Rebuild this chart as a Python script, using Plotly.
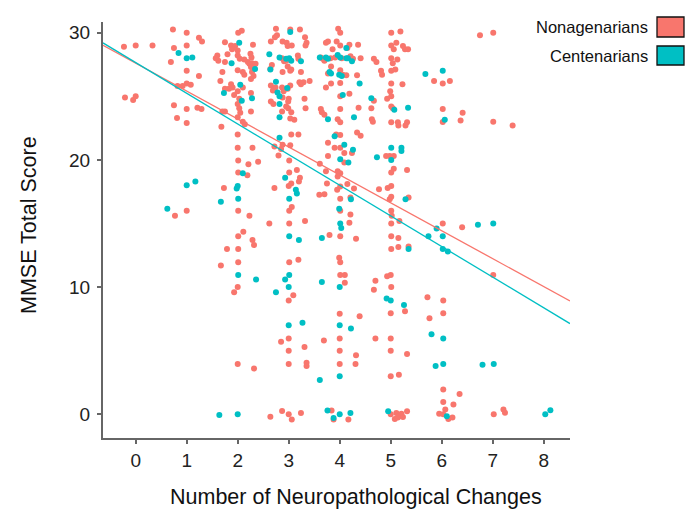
import plotly.graph_objects as go

# ---------------- data ----------------
groups = ["Nonagenarians", "Centenarians"]
group_colors = ["#F8766D", "#00BFC4"]

nonagenarian_points = [
    (0.73,30.25),(1.0,30.0),(1.24,29.6),(1.30,29.3),(-0.23,28.9),(0.0,29.0),(0.33,29.0),(0.75,28.8),(1.0,29.0),
    (0.69,27.7),(1.0,27.0),(1.24,26.6),(1.0,26.0),(0.92,25.8),(0.82,25.8),(1.08,25.9),(-0.21,24.9),(-0.05,24.7),
    (0.0,25.0),(0.75,24.3),(1.0,24.0),(1.21,24.1),(1.29,24.0),(0.81,23.3),(1.0,22.9),(0.77,15.6),(1.0,16.0),
    (2.08,30.15),(2.01,30.0),(1.75,29.25),(1.87,29.0),(1.95,28.95),(1.89,28.7),(2.0,28.6),(2.3,29.05),(1.6,28.2),
    (1.62,27.8),(1.57,28.0),(1.8,28.3),(1.75,27.7),(2.0,28.2),(2.04,27.95),(2.13,27.9),(2.25,28.35),(2.27,28.05),
    (2.2,27.7),(2.23,27.55),(2.28,27.6),(2.31,27.4),(2.35,27.55),(2.26,27.3),(2.0,27.05),(2.1,26.9),(2.13,26.7),
    (2.28,26.9),(2.31,26.6),(2.26,26.35),(1.7,26.9),(1.66,26.2),(1.87,25.95),(1.9,25.7),(1.83,25.6),(2.1,25.7),
    (2.0,25.4),(1.93,25.1),(1.75,25.6),(2.26,25.25),(2.03,24.8),(2.0,24.4),(2.03,24.05),(2.05,23.7),(2.0,23.35),
    (2.26,23.8),(1.7,23.8),(1.75,23.8),(1.68,22.6),(2.0,22.0),(2.0,20.95),(2.29,20.95),(2.14,22.8),(2.1,23.0),
    (2.01,19.95),(2.21,19.65),(2.4,19.85),(2.01,19.0),(2.19,18.8),(1.73,17.8),(2.01,16.0),(2.23,15.6),(2.11,14.35),
    (2.01,14.0),(2.29,13.7),(2.32,13.3),(1.79,13.0),(2.01,13.0),(2.01,11.95),(1.67,11.7),(2.0,10.0),(1.93,9.6),
    (2.0,3.95),(2.32,3.6),
    (2.75,30.3),(2.77,29.8),(3.03,30.25),(3.22,30.25),(2.65,29.3),(2.88,29.3),(2.96,29.2),(2.98,28.95),(3.06,29.0),
    (3.32,29.65),(3.35,29.2),(3.33,29.0),(2.73,29.65),(2.87,28.0),(2.91,27.75),(2.95,27.8),(3.18,28.2),(3.19,27.95),
    (2.67,27.45),(2.64,27.15),(2.98,27.35),(3.05,27.1),(2.88,26.9),(3.03,27.0),(3.24,26.9),(3.29,26.1),(3.24,25.95),
    (3.41,26.2),(3.21,26.1),(2.65,25.85),(2.74,25.7),(2.69,25.45),(2.87,25.7),(2.98,25.6),(3.03,25.85),(2.9,25.4),
    (2.88,24.9),(3.0,24.8),(2.65,24.6),(2.7,24.4),(2.99,24.6),(2.95,24.2),(3.31,24.8),(3.33,24.05),(2.87,23.8),
    (2.99,24.05),(3.05,23.75),(3.03,23.25),(3.11,23.15),(3.05,22.0),(3.19,22.0),(2.88,21.2),(3.03,21.15),(2.72,21.05),
    (2.85,20.85),(2.8,20.35),(3.01,19.95),(3.01,19.0),(3.16,19.2),(3.22,18.6),(3.2,18.3),(3.05,18.15),(3.0,17.95),
    (2.72,17.8),(3.06,16.3),(3.01,16.0),(2.62,15.0),(3.01,15.0),(3.32,15.2),(3.01,11.95),(3.19,12.15),(3.09,9.35),
    (3.0,8.95),(2.85,5.7),(3.0,5.95),(3.0,5.0),(3.31,5.3),(3.0,3.95),(3.35,4.05),(3.35,3.8),(2.64,-0.2),(2.87,0.25),
    (3.0,0.0),(3.06,-0.4),(3.24,0.1),
    (3.63,28.05),(3.7,27.8),(3.67,27.95),(3.65,23.75),(3.77,21.35),(3.97,30.3),(4.01,30.0),(3.73,29.2),(3.77,29.3),
    (3.94,29.3),(4.01,29.0),(4.19,29.05),(4.36,29.05),(4.15,28.8),(3.86,28.7),(3.82,28.0),(3.91,28.05),(4.04,28.0),
    (4.21,28.15),(4.26,27.95),(4.41,28.0),(3.83,27.35),(3.77,26.8),(4.01,27.05),(4.06,26.7),(4.13,26.65),(4.34,26.65),
    (3.73,25.7),(3.83,26.0),(4.01,26.05),(4.01,25.0),(4.19,25.2),(4.67,24.65),(3.63,24.0),(3.7,23.55),(4.01,24.0),
    (4.37,24.1),(4.62,24.05),(3.96,23.2),(4.01,22.95),(4.63,23.2),(4.65,23.0),(4.34,22.15),(4.41,21.9),(3.93,22.0),
    (4.01,21.95),(3.9,20.95),(4.01,20.95),(4.09,20.55),(4.24,20.55),(3.77,20.3),(3.61,19.7),(3.73,19.1),(4.09,19.8),
    (3.96,19.1),(4.01,18.95),(3.96,18.7),(3.75,18.15),(4.15,18.1),(4.28,17.75),(3.95,17.65),(4.01,17.9),(3.6,17.25),
    (3.7,17.3),(4.77,17.7),(4.01,16.95),(4.21,17.05),(4.01,16.0),(4.21,15.7),(4.19,15.05),(3.8,14.1),(4.01,14.0),
    (4.32,13.8),(3.99,12.3),(4.01,11.95),(4.01,10.95),(4.1,10.95),(4.1,10.35),(4.70,10.5),(4.67,9.8),(3.69,5.8),
    (4.0,7.9),(4.0,5.95),(4.0,5.0),(4.0,3.95),(4.39,7.7),(4.32,4.65),(4.31,3.95),(3.84,0.3),(3.88,-0.4),(4.17,-0.4),
    (5.01,30.0),(5.19,30.1),(5.01,29.0),(5.11,29.2),(5.06,28.7),(5.24,28.95),(5.28,28.7),(5.34,28.7),(4.67,27.95),
    (4.72,27.7),(5.01,28.0),(5.13,27.9),(5.04,27.6),(4.81,27.0),(4.83,26.7),(5.01,27.0),(5.09,27.1),(5.01,26.0),
    (5.23,25.95),(4.99,25.4),(5.01,25.0),(4.93,24.8),(5.01,24.2),(5.04,24.05),(5.01,22.95),(5.14,22.95),(5.15,22.7),
    (5.32,22.95),(5.29,22.7),(4.91,20.3),(4.98,20.3),(5.06,20.3),(5.01,19.0),(5.06,19.3),(5.32,19.2),(4.94,17.8),
    (5.01,17.95),(4.98,16.9),(5.01,17.1),(5.35,17.05),(5.01,16.0),(5.02,15.6),(5.01,15.0),(5.17,15.2),(5.01,14.0),
    (5.15,13.85),(5.01,13.0),(5.15,13.15),(5.35,13.2),(4.93,10.85),(5.0,10.95),(5.01,10.0),(5.72,9.2),(5.0,7.95),
    (5.28,8.1),(5.76,7.55),(4.7,5.95),(5.0,5.95),(5.0,5.0),(5.32,4.75),(5.0,3.0),(5.16,3.1),(5.0,0.0),(5.11,0.1),
    (5.08,-0.37),(5.16,-0.16),(5.21,0.05),(5.24,-0.21),(5.32,0.24),(5.14,-0.26),
    (6.75,29.8),(7.01,30.0),(5.85,26.2),(6.02,26.0),(6.16,26.2),(6.02,24.0),(6.41,23.7),(6.37,23.1),(6.02,22.97),
    (7.01,23.0),(7.39,22.7),(6.02,15.0),(6.4,14.7),(7.01,10.95),(6.03,8.95),(6.03,7.95),(6.03,1.95),(6.35,1.6),
    (6.03,0.97),(6.23,0.77),(6.07,0.37),(5.95,0.05),(6.03,0.0),(6.13,-0.37),(6.21,-0.26),(7.02,0.0),(7.21,0.37),
    (7.24,0.13),
]

centenarian_points = [
    (0.84,28.4),(1.0,28.0),(1.11,28.05),(1.0,18.0),(1.17,18.3),(0.62,16.15),
    (2.03,29.2),(1.88,27.6),(2.34,27.15),(2.05,25.9),(1.73,25.25),(2.28,24.85),(2.08,24.65),(1.67,16.7),(2.1,18.95),
    (2.0,17.95),(1.98,17.75),(2.01,16.95),(2.01,10.95),(2.36,10.6),(1.64,-0.05),(2.0,0.0),
    (3.03,30.05),(2.62,28.3),(2.82,28.05),(2.95,27.95),(3.01,28.0),(3.05,27.8),(3.24,27.75),(2.64,27.1),(2.75,26.15),
    (2.97,25.65),(2.78,25.3),(2.82,25.0),(2.82,24.4),(2.82,23.35),(2.82,21.75),(2.93,18.6),(3.14,17.65),(3.16,17.35),
    (3.01,16.95),(3.01,14.0),(3.2,13.7),(2.93,10.6),(3.01,10.95),(3.0,10.0),(2.75,9.6),(3.0,7.0),(3.27,7.2),
    (3.61,28.05),(3.8,26.9),(3.77,23.2),(4.13,28.8),(3.73,28.05),(3.77,27.95),(3.96,28.25),(4.01,28.05),(4.13,28.0),
    (4.16,28.0),(4.24,27.75),(3.83,26.8),(3.99,26.7),(4.04,26.6),(4.39,26.0),(4.06,25.1),(4.62,24.85),(4.28,23.35),
    (3.9,21.85),(4.09,21.2),(4.26,20.8),(4.01,20.05),(4.17,19.8),(4.22,16.9),(3.99,16.15),(4.01,15.0),(4.03,14.65),
    (3.65,13.85),(3.65,10.4),(4.0,10.0),(4.0,7.0),(4.22,6.75),(3.61,2.7),(4.0,3.0),(3.76,0.3),(3.88,-0.3),(4.0,0.0),
    (4.21,0.1),
    (5.07,23.95),(5.34,24.1),(5.01,20.95),(5.21,20.95),(5.21,20.7),(4.73,20.2),(5.01,20.0),(5.29,16.9),(5.35,13.0),
    (4.92,9.1),(5.0,8.95),(5.26,8.6),(4.95,0.24),
    (5.68,26.75),(6.02,27.0),(6.06,23.15),(5.9,14.6),(6.71,14.9),(7.01,15.0),(6.02,14.0),(5.74,14.0),(6.02,13.0),
    (6.12,12.8),(5.8,6.3),(6.03,5.95),(5.88,3.8),(6.03,3.95),(6.8,3.9),(7.02,3.95),(6.1,-0.16),(8.03,0.0),(8.13,0.32),
]

# linear fit per group (intercept, slope)
fit_intercepts = [27.6, 27.65]
fit_slopes = [-2.195, -2.41]

x_tick_values = [0, 1, 2, 3, 4, 5, 6, 7, 8]
y_tick_values = [0, 10, 20, 30]
x_title = "Number of Neuropathological Changes"
y_title = "MMSE Total Score"

# ---------------- layout geometry ----------------
W, H = 696, 510
OFF = 8  # page body margin offset
PLOT_LEFT, PLOT_RIGHT, PLOT_TOP, PLOT_BOTTOM = 103, 570, 22, 438  # as seen in the page
PW, PH = PLOT_RIGHT - PLOT_LEFT, PLOT_BOTTOM - PLOT_TOP
L, T = PLOT_LEFT - OFF, PLOT_TOP - OFF
R, B = W - L - PW, H - T - PH
x_range = [-0.641, 8.515]
y_range = [-1.863, 30.84]
FONT = "Liberation Sans, Arial, sans-serif"

def px_x(px):
    return (px - PLOT_LEFT) / PW

def px_y(py):
    return (PLOT_BOTTOM - py) / PH

point_sets = [nonagenarian_points, centenarian_points]

fig = go.Figure()
for name, color, pts in zip(groups, group_colors, point_sets):
    fig.add_trace(go.Scatter(
        x=[p[0] for p in pts], y=[p[1] for p in pts],
        mode="markers", name=name, showlegend=False,
        marker=dict(color=color, size=6, line=dict(width=0)),
    ))

for name, color, a, b in zip(groups, group_colors, fit_intercepts, fit_slopes):
    xs = [x_range[0], x_range[1]]
    fig.add_trace(go.Scatter(
        x=xs, y=[a + b * v for v in xs], mode="lines", showlegend=False,
        line=dict(color=color, width=1.3), hoverinfo="skip",
    ))

# manual legend (text to the left of the key, as in the reference)
annotations = []
shapes = []
legend_rows = [(17, 37), (46, 65)]
for (y0, y1), name, color in zip(legend_rows, groups, group_colors):
    shapes.append(dict(type="rect", xref="paper", yref="paper",
                       x0=px_x(657), x1=px_x(684), y0=px_y(y1), y1=px_y(y0),
                       fillcolor=color, line=dict(color="#111111", width=1.3)))
    annotations.append(dict(xref="paper", yref="paper", x=px_x(650), y=px_y((y0 + y1) / 2),
                            xanchor="right", yanchor="middle", showarrow=False, text=name,
                            font=dict(family=FONT, size=16.5, color="#111111")))

annotations.append(dict(xref="paper", yref="paper", x=px_x(356), y=px_y(497),
                        xanchor="center", yanchor="middle", showarrow=False, text=x_title,
                        font=dict(family=FONT, size=21.5, color="#111111")))
annotations.append(dict(xref="paper", yref="paper", x=px_x(29), y=px_y(225),
                        xanchor="center", yanchor="middle", showarrow=False, text=y_title,
                        textangle=-90, font=dict(family=FONT, size=21.5, color="#111111")))

axis_common = dict(showgrid=False, zeroline=False, showline=True, linecolor="#666666",
                   linewidth=2, ticks="outside", ticklen=4, tickwidth=1.5, tickcolor="#666666",
                   tickfont=dict(family=FONT, size=19, color="#222222"), mirror=False)

fig.update_layout(
    width=W, height=H, margin=dict(l=L, r=R, t=T, b=B, pad=0),
    paper_bgcolor="white", plot_bgcolor="white",
    xaxis=dict(range=x_range, tickmode="array", tickvals=x_tick_values, **axis_common),
    yaxis=dict(range=y_range, tickmode="array", tickvals=y_tick_values,
               ticklabelstandoff=3, **axis_common),
    shapes=shapes, annotations=annotations, showlegend=False,
)

fig.write_html("out.html")
